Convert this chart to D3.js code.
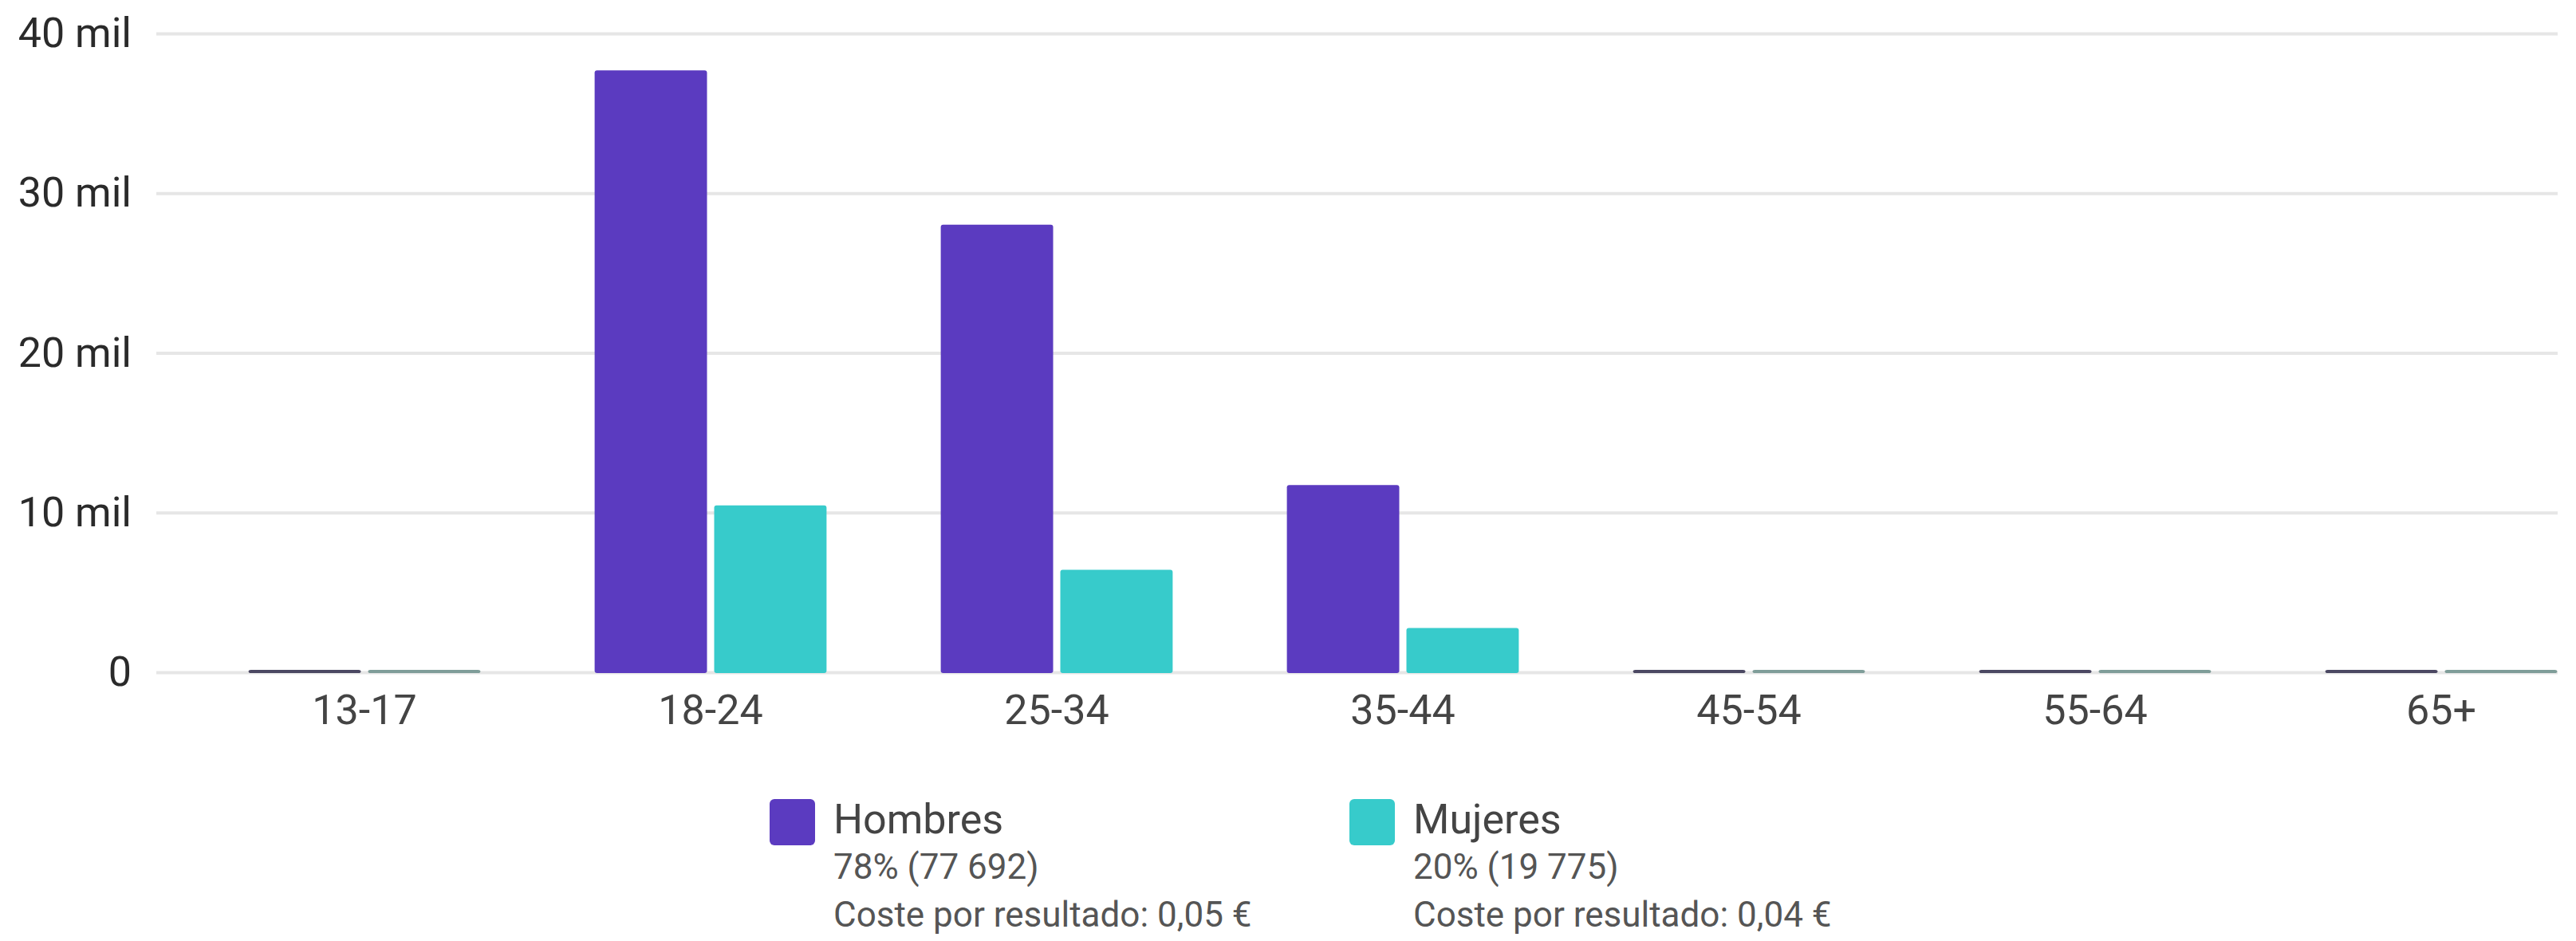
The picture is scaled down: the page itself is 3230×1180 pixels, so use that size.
<!DOCTYPE html>
<html>
<head>
<meta charset="utf-8">
<script src="https://cdn.jsdelivr.net/npm/d3@7"></script>
<style>
  html, body { margin: 0; padding: 0; background: #ffffff; }
  svg { display: block; font-family: Roboto, "Noto Sans", sans-serif; }
</style>
</head>
<body>
<svg id="chart" width="3230" height="1180"></svg>
<script>
// ---- data ----
const categories = ["13-17", "18-24", "25-34", "35-44", "45-54", "55-64", "65+"];
const seriesNames = ["Hombres", "Mujeres"];
const hombres = [30, 37740, 28080, 11770, 30, 20, 20];
const mujeres = [20, 10500, 6470, 2820, 20, 20, 20];
const yTicks = [0, 10000, 20000, 30000, 40000];
const legendShare = ["78% (77 692)", "20% (19 775)"];
const legendCost = ["Coste por resultado: 0,05 €", "Coste por resultado: 0,04 €"];

// ---- style ----
const colors = ["#5b3bc0", "#37cbcb"];
const tinyColors = ["#4b4862", "#7f9d99"];

const svg = d3.select("#chart");

const plotLeft = 196, plotRight = 3207;
const y = d3.scaleLinear().domain([0, 40000]).range([843, 42]);

const x0 = d3.scaleBand().domain(categories).range([240, 3278])
  .paddingInner(0.33).paddingOuter(0.165);
const x1 = d3.scaleBand().domain(seriesNames).range([0, x0.bandwidth()]).paddingInner(0.06);

// gridlines + y labels
const yAxis = d3.axisLeft(y)
  .tickValues(yTicks)
  .tickSize(-(plotRight - plotLeft))
  .tickPadding(31)
  .tickFormat(d => d === 0 ? "0" : (d / 1000) + " mil");

const gy = svg.append("g").attr("transform", `translate(${plotLeft},0)`).call(yAxis);
gy.select(".domain").remove();
gy.selectAll(".tick line").attr("stroke", "#e6e6e6").attr("stroke-width", 4);
gy.selectAll(".tick text")
  .attr("fill", "#2a2a2a")
  .style("font-size", "52px")
  .style("font-family", "Roboto, sans-serif");

// bars
const rows = categories.map((c, i) => ({ cat: c, vals: [hombres[i], mujeres[i]] }));
const groups = svg.append("g").selectAll("g")
  .data(rows).join("g")
  .attr("transform", d => `translate(${x0(d.cat)},0)`);

groups.selectAll("rect")
  .data(d => d.vals.map((v, k) => ({ v, k })))
  .join("rect")
  .attr("x", d => x1(seriesNames[d.k]))
  .attr("width", x1.bandwidth())
  .attr("y", d => {
    const h = Math.max(y(0) - y(d.v), 4);
    return y(0) + 1 - h;
  })
  .attr("height", d => Math.max(y(0) - y(d.v), 4))
  .attr("rx", 3)
  .attr("fill", d => (y(0) - y(d.v)) < 6 ? tinyColors[d.k] : colors[d.k]);

// x labels
const xAxis = d3.axisBottom(x0).tickSize(0).tickPadding(0);
const gx = svg.append("g").attr("transform", `translate(0,${y(0)})`).call(xAxis);
gx.select(".domain").remove();
gx.selectAll(".tick text")
  .attr("y", 65)
  .attr("dy", 0)
  .attr("fill", "#444444")
  .style("font-size", "52px")
  .style("font-family", "Roboto, sans-serif");

// legend
const legendX = d3.scalePoint().domain(seriesNames).range([965, 1692]);
const lg = svg.append("g").selectAll("g")
  .data(seriesNames).join("g")
  .attr("transform", d => `translate(${legendX(d)},1002)`);

lg.append("rect")
  .attr("width", 57).attr("height", 58).attr("rx", 6)
  .attr("fill", (d, i) => colors[i]);

lg.append("text")
  .attr("x", 80).attr("y", 43)
  .attr("fill", "#444444")
  .style("font-size", "52px")
  .text(d => d);

lg.append("text")
  .attr("x", 80).attr("y", 100)
  .attr("fill", "#555555")
  .style("font-size", "44px")
  .text((d, i) => legendShare[i]);

lg.append("text")
  .attr("x", 80).attr("y", 160)
  .attr("fill", "#555555")
  .style("font-size", "44px")
  .text((d, i) => legendCost[i]);
</script>
</body>
</html>
